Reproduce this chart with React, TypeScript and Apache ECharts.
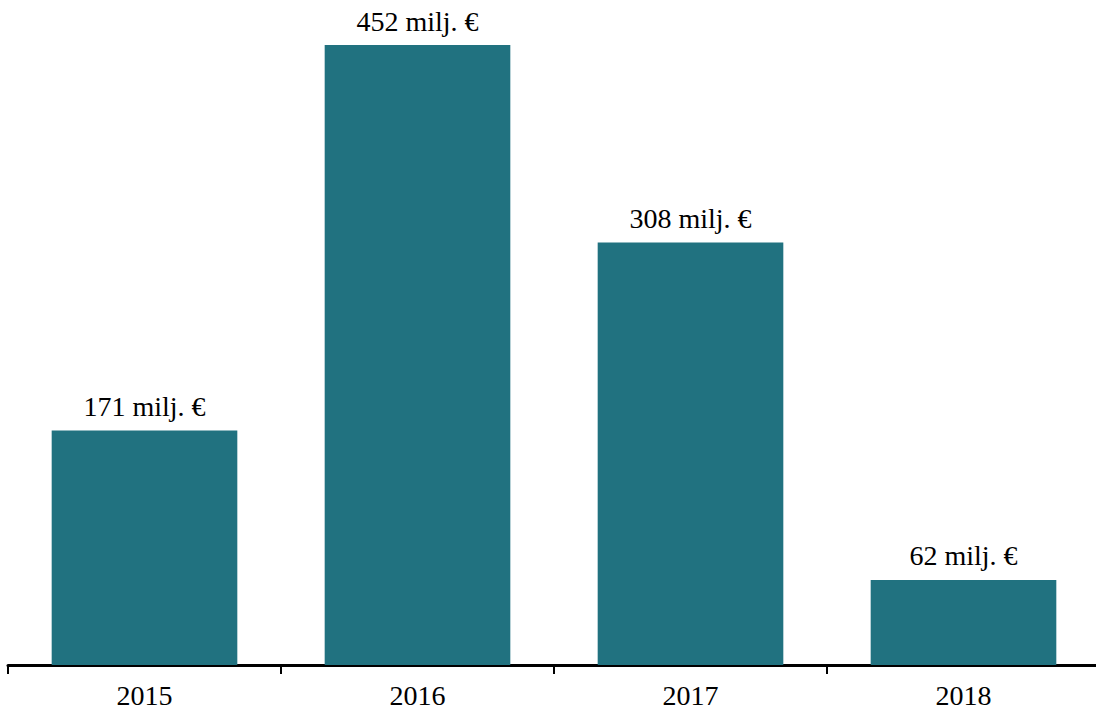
import React, { useEffect, useRef } from "react";
import * as echarts from "echarts";

const years = ["2015", "2016", "2017", "2018"];
const values = [171, 452, 308, 62];
const unit = " milj. €";

export default function App() {
  const ref = useRef<HTMLDivElement>(null);
  useEffect(() => {
    if (!ref.current) return;
    const chart = echarts.init(ref.current, null, { renderer: "svg" });
    const font = "'Liberation Serif', 'Times New Roman', serif";
    chart.setOption({
      animation: false,
      grid: { left: 8, right: 0, top: 45, bottom: 46, containLabel: false },
      xAxis: {
        type: "category",
        data: years,
        axisLine: { show: true, lineStyle: { color: "#000", width: 3 } },
        axisTick: { show: true, length: 9, lineStyle: { color: "#000", width: 2 } },
        axisLabel: { color: "#000", fontFamily: font, fontSize: 28, margin: 16 },
      },
      yAxis: {
        type: "value",
        min: 0,
        max: 452,
        show: false,
        splitLine: { show: false },
      },
      series: [
        {
          type: "bar",
          data: values,
          barCategoryGap: "32%",
          itemStyle: { color: "#217280" },
          label: {
            show: true,
            position: "top",
            distance: 10,
            color: "#000",
            fontFamily: font,
            fontSize: 28,
            formatter: (p: any) => p.value + unit,
          },
        },
      ],
    });
    return () => chart.dispose();
  }, []);
  return (
    <div style={{ width: 1096, height: 711, position: "absolute", left: 0, top: 0, overflow: "hidden" }}>
      <div ref={ref} style={{ width: 1100, height: 711 }} />
    </div>
  );
}
